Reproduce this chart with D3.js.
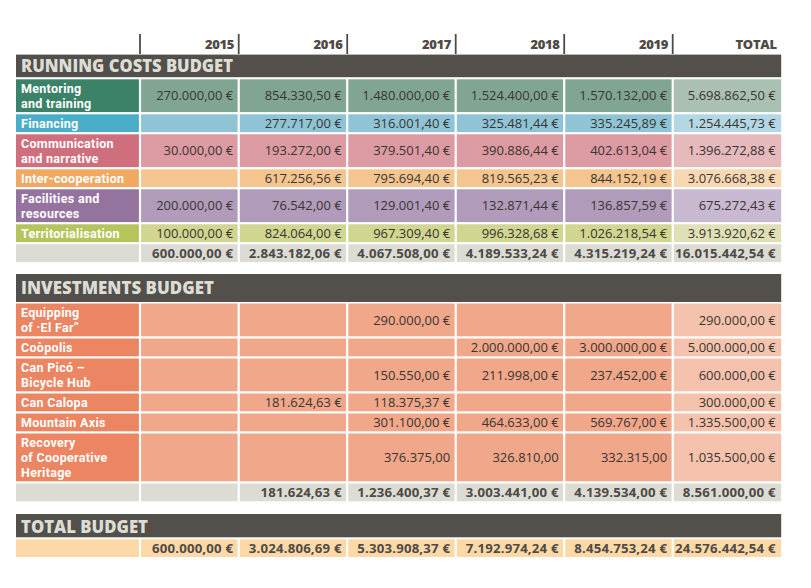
<!DOCTYPE html>
<html><head><meta charset="utf-8">
<script src="https://cdn.jsdelivr.net/npm/d3@7/dist/d3.min.js"></script>
<style>body{margin:0;background:#fff}svg{display:block}</style>
</head><body>
<svg id="chart" width="811" height="588"></svg>
<script>
// ---------- DATA ----------
const years = ["2015", "2016", "2017", "2018", "2019", "TOTAL"];

const runningLabels = [
  ["Mentoring", "and training"],
  ["Financing"],
  ["Communication", "and narrative"],
  ["Inter-cooperation"],
  ["Facilities and", "resources"],
  ["Territorialisation"]
];
const mentoringValues        = [270000.00, 854330.50, 1480000.00, 1524400.00, 1570132.00, 5698862.50];
const financingValues        = [null, 277717.00, 316001.40, 325481.44, 335245.89, 1254445.73];
const communicationValues    = [30000.00, 193272.00, 379501.40, 390886.44, 402613.04, 1396272.88];
const interCooperationValues = [null, 617256.56, 795694.40, 819565.23, 844152.19, 3076668.38];
const facilitiesValues       = [200000.00, 76542.00, 129001.40, 132871.44, 136857.59, 675272.43];
const territorialValues      = [100000.00, 824064.00, 967309.40, 996328.68, 1026218.54, 3913920.62];
const runningTotals          = [600000.00, 2843182.06, 4067508.00, 4189533.24, 4315219.24, 16015442.54];

const investmentLabels = [
  ["Equipping", "of ·El Far”"],
  ["Coòpolis"],
  ["Can Picó –", "Bicycle Hub"],
  ["Can Calopa"],
  ["Mountain Axis"],
  ["Recovery", "of Cooperative", "Heritage"]
];
const equippingValues  = [null, null, 290000.00, null, null, 290000.00];
const coopolisValues   = [null, null, null, 2000000.00, 3000000.00, 5000000.00];
const canPicoValues    = [null, null, 150550.00, 211998.00, 237452.00, 600000.00];
const canCalopaValues  = [null, 181624.63, 118375.37, null, null, 300000.00];
const mountainValues   = [null, null, 301100.00, 464633.00, 569767.00, 1335500.00];
const recoveryValues   = [null, null, 376375.00, 326810.00, 332315.00, 1035500.00];
const investmentTotals = [null, 181624.63, 1236400.37, 3003441.00, 4139534.00, 8561000.00];
// rows whose yearly cells are printed without the € sign
const euroOnlyOnTotal  = ["Recovery"];

const totalBudget = [600000.00, 3024806.69, 5303908.37, 7192974.24, 8454753.24, 24576442.54];

const sectionTitles = ["RUNNING COSTS BUDGET", "INVESTMENTS BUDGET", "TOTAL BUDGET"];

// ---------- STYLE ----------
const runningPalette = [
  {label: "#3b8269", cell: "#80a592", total: "#a9c0b3"},
  {label: "#4aadc9", cell: "#8ec4d6", total: "#b3d7e4"},
  {label: "#cf6e7d", cell: "#dc9aa3", total: "#e6b9bd"},
  {label: "#f1a962", cell: "#f4c58f", total: "#f8d8b3"},
  {label: "#94739f", cell: "#b19bba", total: "#c8b8d0"},
  {label: "#b6c45b", cell: "#d0d58f", total: "#dfe0b6"}
];
const investPalette = {label: "#eb8562", cell: "#f0a78a", total: "#f5c3ad"};
const greyRow = "#dcdcd5";
const peachRow = "#fdd9a7";
const darkBar = "#534f4a";
const titleText = "#dcddd6";
const darkText = "#3a3530";
const boldText = "#4f4a45";

const locale = d3.formatLocale({decimal: ",", thousands: ".", grouping: [3], currency: ["", ""]});
const fmt = locale.format(",.2f");

// ---------- LAYOUT ----------
const svg = d3.select("#chart");
svg.append("rect").attr("width", 811).attr("height", 588).attr("fill", "#fff");

const colKeys = ["label"].concat(years);
const colWidths = [124, 98.7, 108.5, 108.5, 108.5, 108.5, 108.5];
const colLefts = colWidths.map((w, i) => 16 + d3.sum(colWidths.slice(0, i)));
const xLeft = d3.scaleOrdinal().domain(colKeys).range(colLefts);
const xWidth = d3.scaleOrdinal().domain(colKeys).range(colWidths);
const tableLeft = 16, tableRight = 16 + d3.sum(colWidths);
const gap = 2.2;
const rowH = lines => 2.8 + 15 * lines;

const fontFam = "'Open Sans', 'DejaVu Sans', sans-serif";
const labelFam = "Roboto, 'Open Sans', sans-serif";

// header years
const head = svg.append("g");
years.forEach(y => {
  head.append("line")
    .attr("x1", xLeft(y)).attr("x2", xLeft(y))
    .attr("y1", 34).attr("y2", 54)
    .attr("stroke", boldText).attr("stroke-width", 1.8);
  head.append("text")
    .attr("x", xLeft(y) + xWidth(y) - 4.5).attr("y", 49.3)
    .attr("text-anchor", "end")
    .attr("font-family", fontFam).attr("font-weight", 800).attr("font-size", 13)
    .attr("letter-spacing", -0.3)
    .attr("fill", boldText).text(y);
});

function sectionBar(top, h, title, baseline, tl) {
  svg.append("rect").attr("x", tableLeft).attr("y", top)
    .attr("width", tableRight - tableLeft).attr("height", h).attr("fill", darkBar);
  svg.append("text").attr("x", 21).attr("y", baseline)
    .attr("font-family", fontFam).attr("font-weight", 800).attr("font-size", 17.5)
    .attr("textLength", tl).attr("lengthAdjust", "spacingAndGlyphs")
    .attr("fill", titleText).text(title);
}

function cellRect(col, top, h, fill) {
  const x0 = xLeft(col) + (col === "label" ? 0 : gap / 2);
  const x1 = xLeft(col) + xWidth(col) - (col === "TOTAL" ? 0 : gap / 2);
  svg.append("rect").attr("x", x0).attr("y", top)
    .attr("width", x1 - x0).attr("height", h).attr("fill", fill);
}

function valueText(col, top, h, v, bold, euro) {
  if (v == null) return;
  svg.append("text")
    .attr("x", xLeft(col) + xWidth(col) - 5.5)
    .attr("y", top + h / 2 + 4.6)
    .attr("text-anchor", "end")
    .attr("font-family", fontFam)
    .attr("font-weight", bold ? 700 : 400)
    .attr("font-size", bold ? 13.2 : 13)
    .attr("letter-spacing", bold ? 0.2 : 0)
    .attr("fill", bold ? boldText : darkText)
    .text(fmt(v) + (euro ? " €" : ""));
}

function labelText(top, h, lines) {
  const lh = 14.7;
  const first = top + h / 2 + 4.5 - (lines.length - 1) * lh / 2;
  lines.forEach((l, i) => {
    svg.append("text").attr("font-family", labelFam)
      .attr("font-weight", 700).attr("font-size", 12.5)
      .attr("letter-spacing", 0.3).attr("fill", "#fff")
      .attr("x", 21).attr("y", first + i * lh).text(l);
  });
}

function dataRow(top, lines, values, pal, euroTotalOnly) {
  const h = rowH(lines.length);
  colKeys.forEach((c, i) => {
    const fill = c === "label" ? pal.label : (c === "TOTAL" ? pal.total : pal.cell);
    cellRect(c, top, h, fill);
    if (i > 0) valueText(c, top, h, values[i - 1], false, c === "TOTAL" || !euroTotalOnly);
  });
  labelText(top, h, lines);
  return top + h + gap;
}

function totalRow(top, values, fill) {
  const h = rowH(1);
  colKeys.forEach((c, i) => {
    cellRect(c, top, h, fill);
    if (i > 0) valueText(c, top, h, values[i - 1], true, true);
  });
  return top + h + gap;
}

// ---------- RUNNING COSTS ----------
sectionBar(54.6, 22.6, sectionTitles[0], 71.7, 212);
const runningValues = [mentoringValues, financingValues, communicationValues,
  interCooperationValues, facilitiesValues, territorialValues];
let y = 79.3;
runningLabels.forEach((lab, i) => { y = dataRow(y, lab, runningValues[i], runningPalette[i], false); });
totalRow(y, runningTotals, greyRow);

// ---------- INVESTMENTS ----------
sectionBar(274, 28, sectionTitles[1], 294, 193);
const investmentValues = [equippingValues, coopolisValues, canPicoValues,
  canCalopaValues, mountainValues, recoveryValues];
y = 303.5;
investmentLabels.forEach((lab, i) => {
  y = dataRow(y, lab, investmentValues[i], investPalette, euroOnlyOnTotal.includes(lab[0]));
});
totalRow(y, investmentTotals, greyRow);

// ---------- TOTAL ----------
sectionBar(514, 23.3, sectionTitles[2], 532.5, 127);
totalRow(539.2, totalBudget, peachRow);
</script>
</body></html>
